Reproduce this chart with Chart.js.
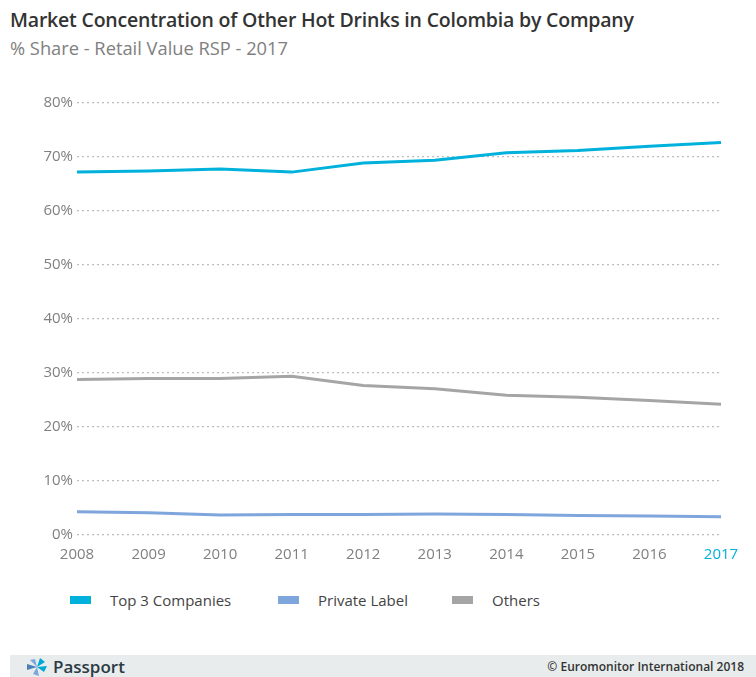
<!DOCTYPE html>
<html>
<head>
<meta charset="utf-8">
<script src="https://cdn.jsdelivr.net/npm/chart.js@4/dist/chart.umd.min.js"></script>
<style>
  html, body { margin: 0; padding: 0; background: #fff; }
  body { width: 756px; height: 677px; position: relative; overflow: hidden; font-family: "Open Sans", "Liberation Sans", sans-serif; }
  #title { position: absolute; left: 10px; top: 6px; font-size: 19.5px; font-weight: 600; color: #333; letter-spacing: -0.2px; white-space: nowrap; }
  #subtitle { position: absolute; left: 10px; top: 35px; font-size: 18.3px; color: #808080; white-space: nowrap; }
  #wrap { position: absolute; left: 0; top: 60px; width: 756px; height: 505px; }
  #legend { position: absolute; top: 589px; left: 0; width: 756px; height: 22px; font-size: 15px; color: #444; }
  .lg { position: absolute; top: 0; display: flex; align-items: center; height: 22px; white-space: nowrap; }
  .lg i { display: inline-block; width: 21px; height: 8px; margin-right: 19px; }
  #foot { position: absolute; left: 10px; right: 0; top: 655px; height: 22px; background: #e8ecec; }
  #foot .brand { position: absolute; left: 16px; top: 0px; display: flex; align-items: center; font-size: 17px; font-weight: 600; color: #2b3a44; }
  #foot .copy { position: absolute; right: 12px; top: 3px; font-size: 12px; font-weight: 600; color: #333; }
</style>
</head>
<body>
<div id="title">Market Concentration of Other Hot Drinks in Colombia by Company</div>
<div id="subtitle">% Share - Retail Value RSP - 2017</div>
<div id="wrap"><canvas id="chart"></canvas></div>
<div id="legend"></div>
<div id="foot">
  <div class="brand">
    <svg width="22" height="18" viewBox="0 0 22 18" style="margin-right:5px">
      <polygon points="11,9 4,2 9,1" fill="#7ea6dc"/>
      <polygon points="11,9 14,0 19,4" fill="#00a9d6"/>
      <polygon points="11,9 21,8 18,14" fill="#00a9d6"/>
      <polygon points="11,9 13,18 7,16" fill="#7ea6dc"/>
      <polygon points="11,9 1,12 1,6" fill="#4a7fb8"/>
    </svg>Passport
  </div>
  <div class="copy">© Euromonitor International 2018</div>
</div>
<script>
const years = ["2008", "2009", "2010", "2011", "2012", "2013", "2014", "2015", "2016", "2017"];
const top3Companies = [67.2, 67.4, 67.8, 67.2, 68.9, 69.4, 70.8, 71.2, 72.0, 72.7];
const privateLabel = [4.3, 4.1, 3.7, 3.8, 3.8, 3.9, 3.8, 3.6, 3.5, 3.4];
const others = [28.8, 29.0, 29.0, 29.4, 27.7, 27.1, 25.9, 25.5, 24.9, 24.2];
const yTicks = [0, 10, 20, 30, 40, 50, 60, 70, 80];

const series = [
  { label: "Top 3 Companies", data: top3Companies, color: "#00b1dc", x: 70 },
  { label: "Private Label", data: privateLabel, color: "#7ea6dc", x: 278 },
  { label: "Others", data: others, color: "#a5a5a5", x: 452 },
];

// legend drawn as html so it sits where the original one is
const lg = document.getElementById("legend");
series.forEach(s => {
  const d = document.createElement("div");
  d.className = "lg";
  d.style.left = s.x + "px";
  d.innerHTML = `<i style="background:${s.color}"></i>${s.label}`;
  lg.appendChild(d);
});

new Chart(document.getElementById("chart"), {
  type: "line",
  data: {
    labels: years,
    datasets: series.map(s => ({
      label: s.label,
      data: s.data,
      borderColor: s.color,
      backgroundColor: s.color,
      borderWidth: 3,
      pointRadius: 0,
      tension: 0,
    })),
  },
  options: {
    responsive: true,
    maintainAspectRatio: false,
    animation: false,
    layout: { padding: { left: 0, right: 35, top: 43, bottom: 0 } },
    plugins: { legend: { display: false }, tooltip: { enabled: false } },
    scales: {
      x: {
        offset: false,
        grid: { display: false },
        border: { display: false },
        afterFit: s => { s.height = 30; },
        ticks: {
          padding: 3,
          maxRotation: 0,
          autoSkip: false,
          font: { size: 15, family: "Open Sans" },
          color: ctx => (ctx.index === years.length - 1 ? "#00b1dc" : "#808080"),
        },
      },
      y: {
        min: 0,
        max: 80,
        afterFit: s => { s.width = 77; },
        afterBuildTicks: s => { s.ticks = yTicks.map(v => ({ value: v })); },
        border: { display: false, dash: [2, 3] },
        grid: { color: "#bdbdbd", lineWidth: 1.3, drawTicks: false },
        ticks: {
          padding: 4,
          font: { size: 15, family: "Open Sans" },
          color: "#808080",
          callback: v => v + "%",
        },
      },
    },
  },
});
</script>
</body>
</html>
